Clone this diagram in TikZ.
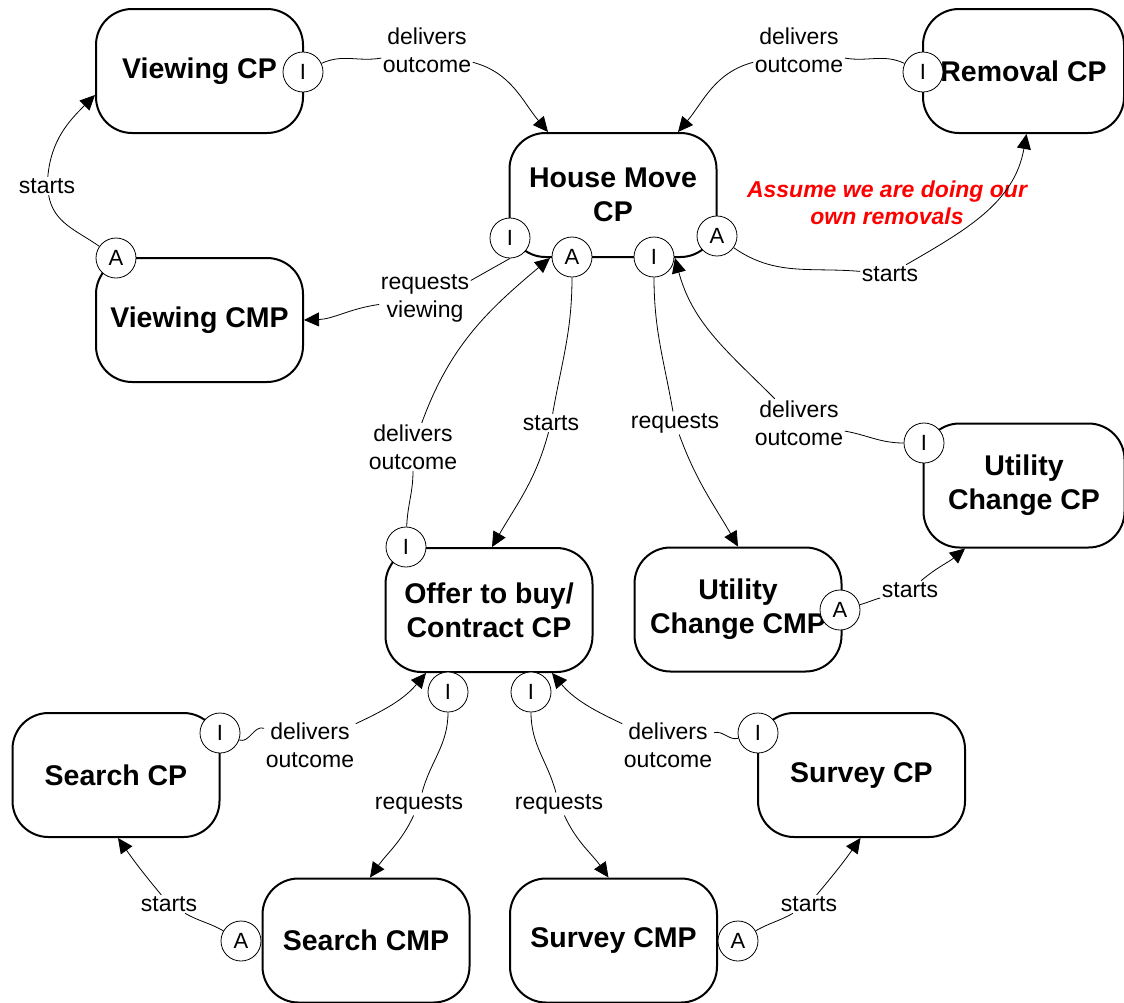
\documentclass[tikz,border=0pt]{standalone}
\usepackage{fontspec}
\setmainfont{Liberation Sans}
\usetikzlibrary{arrows.meta}
\tikzset{
	proc/.style     = {shape=rectangle, rounded corners=36pt,
		draw, line width=2pt, fill=white, align=center,
		minimum width=207pt, minimum height=124pt,
		font=\fontsize{28.5}{34}\selectfont\bfseries},
	procnarrow/.style = {proc, minimum width=201pt},
	port/.style     = {shape=circle, draw, line width=0.8pt, fill=white,
		minimum size=40pt, inner sep=0pt, font=\fontsize{22}{22}\selectfont},
	lbl/.style      = {align=center, inner sep=1.5pt,
		font=\fontsize{23}{28}\selectfont},
	note/.style     = {align=center, text=red,
		font=\fontsize{23}{27}\selectfont\bfseries\itshape}
}
\begin{document}
\begin{tikzpicture}
[
x                       = 1pt,
y                       = 1pt,
conn/.style             = {draw, line width=0.8pt},
arr/.style              = {conn, -{Triangle[length=15pt, width=14pt]}}
]
\useasboundingbox (0,0) rectangle (1124,-1002);
\node [proc] (vcp) at (199.5,-71) {Viewing CP};
\node [procnarrow] (rem) at (1023.5,-71) {Removal CP};
\node [proc] (hm) at (613,-195) {House Move\\CP};
\node [proc] (vcmp) at (199.5,-320) {Viewing CMP};
\node [procnarrow] (ucp) at (1024,-485.5) {Utility\\Change CP};
\node [proc] (offer) at (489,-610) {Offer to buy/\\Contract CP};
\node [proc] (ucmp) at (738,-609.5) {Utility\\Change CMP};
\node [proc] (scp) at (116,-775) {Search CP};
\node [proc] (svcp) at (861.5,-775) {Survey CP};
\node [proc] (scmp) at (366,-940.5) {Search CMP};
\node [proc] (svcmp) at (613.5,-940.5) {Survey CMP};

\node [port] (vcpI) at (303,-72) {I};
\node [port] (remI) at (923,-72) {I};
\node [port] (hmI1) at (510,-238) {I};
\node [port] (hmA1) at (572,-257) {A};
\node [port] (hmI2) at (654,-257) {I};
\node [port] (hmA2) at (717,-236) {A};
\node [port] (vcmpA) at (116,-258) {A};
\node [port] (ucpI) at (924,-443) {I};
\node [port] (ucmpA) at (840,-610) {A};
\node [port] (offI0) at (406,-547) {I};
\node [port] (offI1) at (448,-692) {I};
\node [port] (offI2) at (531,-692) {I};
\node [port] (scpI) at (220,-733) {I};
\node [port] (svcpI) at (758,-733) {I};
\node [port] (scmpA) at (241,-941) {A};
\node [port] (svcmpA) at (738,-941) {A};

\node [lbl] (l1) at (427,-50) {delivers\\outcome};
\node [lbl] (l2) at (799,-50) {delivers\\outcome};
\node [lbl] (l3) at (890,-274) {starts};
\node [note] (own) at (887,-203) {Assume we are doing our\\own removals};
\node [lbl] (l5) at (47,-186) {starts};
\node [lbl] (l6) at (425,-298) {requests\\viewing};
\node [lbl] (l7) at (413,-447) {delivers\\outcome};
\node [lbl] (l8) at (551,-423) {starts};
\node [lbl] (l9) at (675,-423) {requests};
\node [lbl] (l10) at (799,-423) {delivers\\outcome};
\node [lbl] (l11) at (910,-590) {starts};
\node [lbl] (l12) at (310,-745) {delivers\\outcome};
\node [lbl] (l13) at (419,-804) {requests};
\node [lbl] (l14) at (559,-804) {requests};
\node [lbl] (l15) at (668,-745) {delivers\\outcome};
\node [lbl] (l16) at (169,-904) {starts};
\node [lbl] (l17) at (809,-904) {starts};

\draw [conn] (vcpI) to [out=25, in=190] (l1);
\draw [arr] (l1) to [out=-15, in=130] ([xshift=-65pt]hm.north);
\draw [conn] (remI) to [out=155, in=-10] (l2);
\draw [arr] (l2) to [out=195, in=50] ([xshift=65pt]hm.north);
\draw [conn] (hmA2) to [out=-35, in=175] (l3);
\draw [arr] (l3) to [out=30, in=-100] ([xshift=3pt]rem.south);
\draw [conn] (vcmpA) to [out=145, in=-80] (l5);
\draw [arr] (l5) to [out=85, in=-135] ([yshift=-24pt]vcp.west);
\draw [conn] (hmI1.south) -- ([yshift=-8pt]l6.north east);
\draw [arr] (l6) to [out=188, in=2] (vcmp.east);
\draw [conn] (offI0) to [out=88, in=-90] (l7);
\draw [arr] (l7) to [out=70, in=-140] ([xshift=-63pt]hm.south);
\draw [conn] (hmA1) to [out=-90, in=80] (l8);
\draw [arr] (l8) to [out=-105, in=60] ([xshift=3pt]offer.north);
\draw [conn] (hmI2) to [out=-90, in=100] (l9);
\draw [arr] (l9) to [out=-70, in=120] (ucmp.north);
\draw [conn] (ucpI) to [out=180, in=-10] (l10);
\draw [arr] (l10) to [out=135, in=-75] ([xshift=62pt]hm.south);
\draw [conn] (ucmpA) to [out=15, in=195] (l11);
\draw [arr] (l11) to [out=40, in=-140] ([xshift=-59pt]ucp.south);
\draw [conn] (scpI) to [out=-20, in=160] (l12);
\draw [arr] (l12) to [out=25, in=-130] ([xshift=-63pt]offer.south);
\draw [conn] (offI1) to [out=-90, in=75] (l13);
\draw [arr] (l13) to [out=-115, in=55] ([xshift=4pt]scmp.north);
\draw [conn] (offI2) to [out=-90, in=105] (l14);
\draw [arr] (l14) to [out=-65, in=125] ([xshift=-5pt]svcmp.north);
\draw [conn] (svcpI) to [out=195, in=15] (l15);
\draw [arr] (l15) to [out=155, in=-50] ([xshift=63pt]offer.south);
\draw [conn] (scmpA) to [out=150, in=-30] (l16);
\draw [arr] (l16) to [out=130, in=-55] ([xshift=2pt]scp.south);
\draw [conn] (svcmpA) to [out=30, in=-150] (l17);
\draw [arr] (l17) to [out=50, in=-125] ([xshift=-1pt]svcp.south);
\end{tikzpicture}
\end{document}
